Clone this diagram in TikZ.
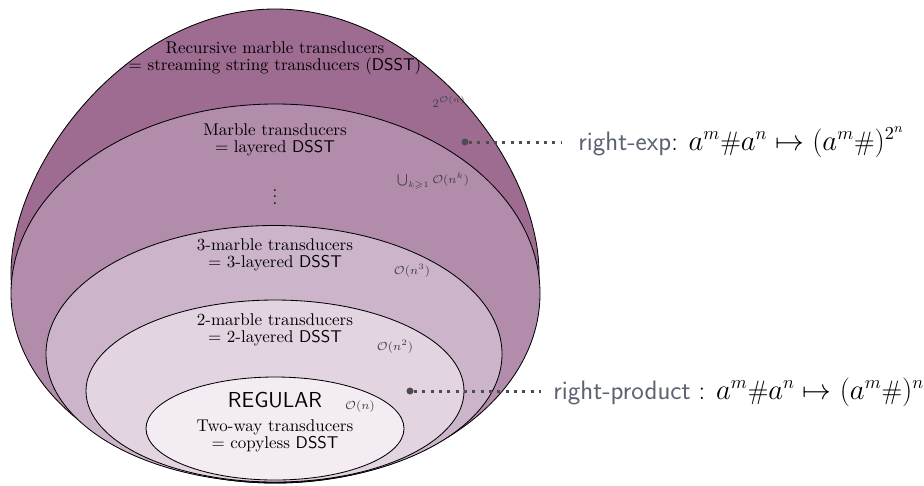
\documentclass[tikz,border=0pt]{standalone}
\usepackage{amssymb}
\usepackage{fontspec}
\definecolor{cA}{HTML}{9E6B91}
\definecolor{cB}{HTML}{B28CAB}
\definecolor{cC}{HTML}{CCB5CA}
\definecolor{cD}{HTML}{E2D4E0}
\definecolor{cE}{HTML}{F3ECF2}
\definecolor{labgray}{HTML}{5B6271}
\definecolor{dotgray}{HTML}{4D4D4D}
\begin{document}
\begin{tikzpicture}[x=0.6pt,y=-0.6pt,
  region/.style={draw=black, line width=0.5pt},
  cls/.style={align=center, font=\fontsize{10.2}{10.4}\selectfont, inner sep=0pt},
  cplx/.style={font=\scriptsize, text=black!75, inner sep=0pt},
  pindot/.style={circle, fill=dotgray, minimum size=4.2pt, inner sep=0pt},
  dotline/.style={dotgray, line width=1.8pt, dash pattern=on 1.8pt off 3.2pt},
  exlabel/.style={font=\fontsize{16}{18}\selectfont, inner sep=0pt, anchor=base west}]
\useasboundingbox (0,0) rectangle (924,485);
% regions
\path[region, fill=cA] (539,273) .. controls (539,163) and (421,9) .. (275,9)
  .. controls (129,9) and (11,163) .. (11,273)
  arc[start angle=180, end angle=0, x radius=264, y radius=210] -- cycle;
\path[region, fill=cB] (275.5,293.5) ellipse [x radius=264.5, y radius=189.5];
\path[region, fill=cC] (274,354) ellipse [x radius=228, y radius=128.5];
\path[region, fill=cD] (275,391) ellipse [x radius=189, y radius=91];
\path[region, fill=cE] (275,428.5) ellipse [x radius=129, y radius=51.5];
% class labels
\node[cls] (rec) at (275,58) {Recursive marble transducers\\= streaming string transducers (\textsf{DSST})};
\node[cls] (mar) at (275,140) {Marble transducers\\= layered \textsf{DSST}};
\node[inner sep=0pt] (vd) at (275,192) {$\vdots$};
\node[cls] (three) at (275,255) {3-marble transducers\\= 3-layered \textsf{DSST}};
\node[cls] (two) at (275,330) {2-marble transducers\\= 2-layered \textsf{DSST}};
\node[inner sep=0pt, font=\sffamily\fontsize{13}{15}\selectfont] (reg) at (275,400) {REGULAR};
\node[cls] (twoway) at (275,436) {Two-way transducers\\= copyless \textsf{DSST}};
% complexity labels
\node[cplx] (kexp) at (449,102) {$2^{\mathcal{O}(n)}$};
\node[cplx] (kpoly) at (433,181) {$\bigcup_{k\geqslant 1}\mathcal{O}(n^k)$};
\node[cplx] (kthree) at (412,271) {$\mathcal{O}(n^3)$};
\node[cplx] (ktwo) at (395,347) {$\mathcal{O}(n^2)$};
\node[cplx] (kone) at (360,407) {$\mathcal{O}(n)$};
% examples
\node[pindot] (p1) at (465,142) {};
\coordinate (e1) at (562,142);
\node[exlabel] (l1) at (578,150) {\textcolor{labgray}{\sffamily right-exp}: $a^m\#a^n \mapsto (a^m\#)^{2^n}$};
\draw[dotline] (p1) -- (e1);
\node[pindot] (p2) at (410,391) {};
\coordinate (e2) at (541,391);
\node[exlabel] (l2) at (553,399) {\textcolor{labgray}{\sffamily right-product} : $a^m\#a^n \mapsto (a^m\#)^n$};
\draw[dotline] (p2) -- (e2);
\end{tikzpicture}
\end{document}
